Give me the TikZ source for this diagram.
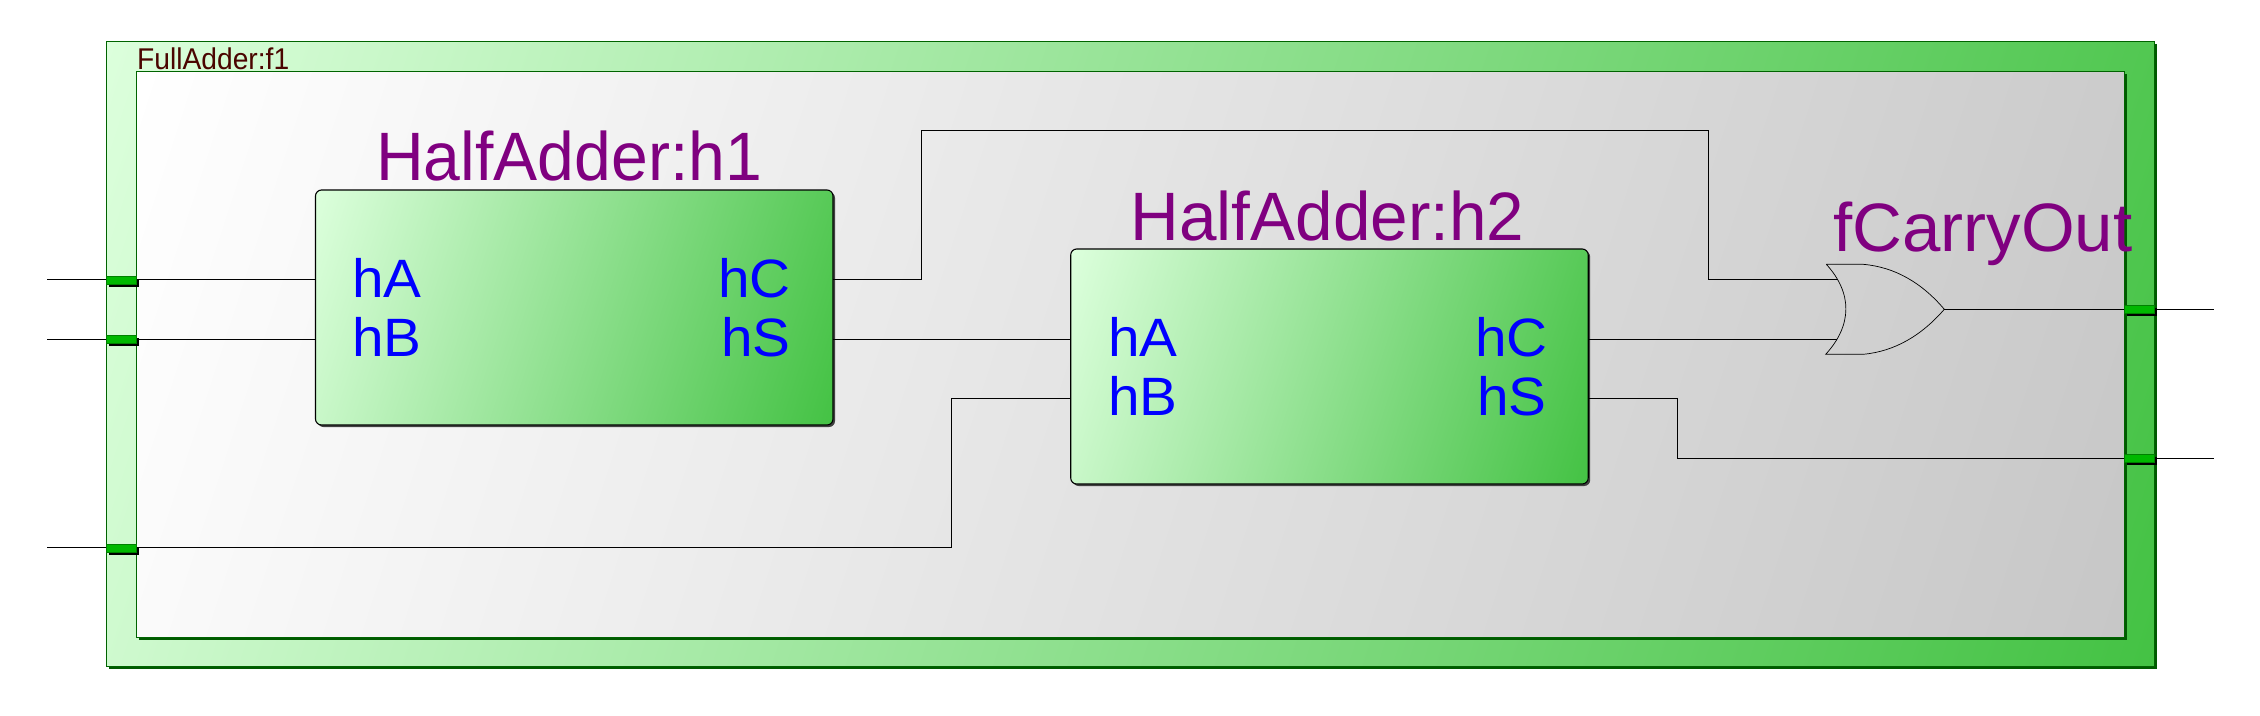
\documentclass[tikz,border=0pt]{standalone}
\usepackage{fontspec}
\setmainfont{Liberation Sans}
\usetikzlibrary{shadows,calc}
\definecolor{gLight}{HTML}{DCFFDC}
\definecolor{gDark}{HTML}{44C244}
\definecolor{edgeGreen}{HTML}{006400}
\definecolor{pinGreen}{HTML}{00B800}
\definecolor{labelPurple}{HTML}{800080}
\definecolor{titleBrown}{HTML}{4A0500}
\tikzset{
  gradfill/.style n args={4}{path picture={
    \shade[x=1pt,y=1pt,top color=#1,bottom color=#2,shading angle=#3]
      ([shift={(-#4/2,-#4/2)}]path picture bounding box.center) rectangle
      ([shift={(#4/2,#4/2)}]path picture bounding box.center);}},
  frame/.style={draw=edgeGreen,line width=1.1pt,inner sep=0pt,outer sep=0pt,fill=white,
    drop shadow={shadow xshift=2pt,shadow yshift=-2pt,opacity=1,fill=edgeGreen!90!black}},
  outerframe/.style={frame,gradfill={gLight}{gDark}{72}{2141}},
  innerframe/.style={frame,gradfill={white}{black!22}{72}{2066}},
  hablock/.style={draw=black,line width=1.1pt,inner sep=0pt,outer sep=0pt,rounded corners=6pt,fill=white,
    minimum width=517.5pt,minimum height=235pt,gradfill={gLight}{gDark}{72}{565},
    drop shadow={shadow xshift=2pt,shadow yshift=-2pt,opacity=1,fill=black!75}},
  pinbox/.style={draw=green!50!black,line width=1pt,fill=pinGreen,inner sep=0pt,outer sep=0pt,
    minimum width=30pt,minimum height=8pt,
    drop shadow={shadow xshift=2pt,shadow yshift=-2.5pt,opacity=1,fill=black}},
  wire/.style={draw=black,line width=1pt},
  gateline/.style={draw=black,line width=0.7pt},
  bigname/.style={text=labelPurple,anchor=base west,inner sep=0pt,transform shape,font=\fontsize{68.5}{72}\selectfont},
  portname/.style={text=blue,inner sep=0pt,transform shape,xscale=1.05,font=\fontsize{54}{58}\selectfont},
  titlename/.style={text=titleBrown,anchor=base west,inner sep=0pt,transform shape,xscale=0.94,font=\fontsize{30}{32}\selectfont},
}
\begin{document}
\begin{tikzpicture}[x=1pt,y=-1pt]
\useasboundingbox (0,0) rectangle (2260,715);
% frames
\node[outerframe,minimum width=2048pt,minimum height=625pt] (outer) at (1130.5,354) {};
\node[innerframe,minimum width=1988pt,minimum height=566pt] (inner) at (1130.5,354.5) {};
% blocks
\node[hablock] (h1) at (574.25,307.5) {};
\node[hablock] (h2) at (1329.45,366.5) {};
% free ends
\coordinate (inA) at (47,279.3);
\coordinate (inB) at (47,339.3);
\coordinate (inC) at (47,547.3);
\coordinate (outC) at (2214,309.3);
\coordinate (outS) at (2214,458.3);
% gate points
\coordinate (gTop) at (1826.3,264.3);
\coordinate (gBot) at (1825.7,354.3);
\coordinate (gOut) at (1944.3,309.3);
\coordinate (gI1) at (1838.3,279.3);
\coordinate (gI2) at (1836.5,339.3);
% bends
\coordinate (h1cUp) at (921.7,279.3);
\coordinate (topL) at (921.7,130);
\coordinate (topR) at (1708,130);
\coordinate (topD) at (1708,279.3);
\coordinate (cinBendA) at (951.7,547.3);
\coordinate (cinBendB) at (951.7,398.3);
\coordinate (sBendA) at (1677,398.3);
\coordinate (sBendB) at (1677,458.3);
% wires
\draw[wire] (inA) -- (inA -| h1.west);
\draw[wire] (inB) -- (inB -| h1.west);
\draw[wire] (inC) -- (cinBendA) -- (cinBendB) -- (cinBendB -| h2.west);
\draw[wire] (h1cUp -| h1.east) -- (h1cUp) -- (topL) -- (topR) -- (topD) -- (gI1);
\draw[wire] (inB -| h1.east) -- (inB -| h2.west);
\draw[wire] (gI2 -| h2.east) -- (gI2);
\draw[wire] (sBendA -| h2.east) -- (sBendA) -- (sBendB) -- (outS);
\draw[wire] (gOut) -- (outC);
% gate
\draw[gateline] (gTop) -- (1863,264.3) .. controls (1895,267) and (1922,283) .. (gOut)
  .. controls (1922,335) and (1895,351.5) .. (1863,354.3) -- (gBot)
  .. controls (1852.5,325) and (1852.5,293) .. (gTop);
% pins
\node[pinbox] (pinA) at (121.5,280) {};
\node[pinbox] (pinB) at (121.5,339) {};
\node[pinbox] (pinC) at (121.5,548) {};
\node[pinbox] (pinO1) at (2139.5,309.3) {};
\node[pinbox] (pinO2) at (2139.5,458.7) {};
% labels
\node[titlename] (ttl) at (137,69) {FullAdder:f1};
\node[bigname,xscale=0.965] (n1) at (376,180.5) {HalfAdder:h1};
\node[bigname,xscale=0.985] (n2) at (1130.5,240) {HalfAdder:h2};
\node[bigname,xscale=1.008] (n3) at (1833,251) {fCarryOut};
\node[portname,anchor=base west] (p1a) at (352,297.7) {hA};
\node[portname,anchor=base west] (p1b) at (352,356.7) {hB};
\node[portname,anchor=base east] (p1c) at (791,297.7) {hC};
\node[portname,anchor=base east] (p1s) at (791,356.7) {hS};
\node[portname,anchor=base west] (p2a) at (1108,356.7) {hA};
\node[portname,anchor=base west] (p2b) at (1108,415.7) {hB};
\node[portname,anchor=base east] (p2c) at (1548,356.7) {hC};
\node[portname,anchor=base east] (p2s) at (1547,415.7) {hS};
\end{tikzpicture}
\end{document}
